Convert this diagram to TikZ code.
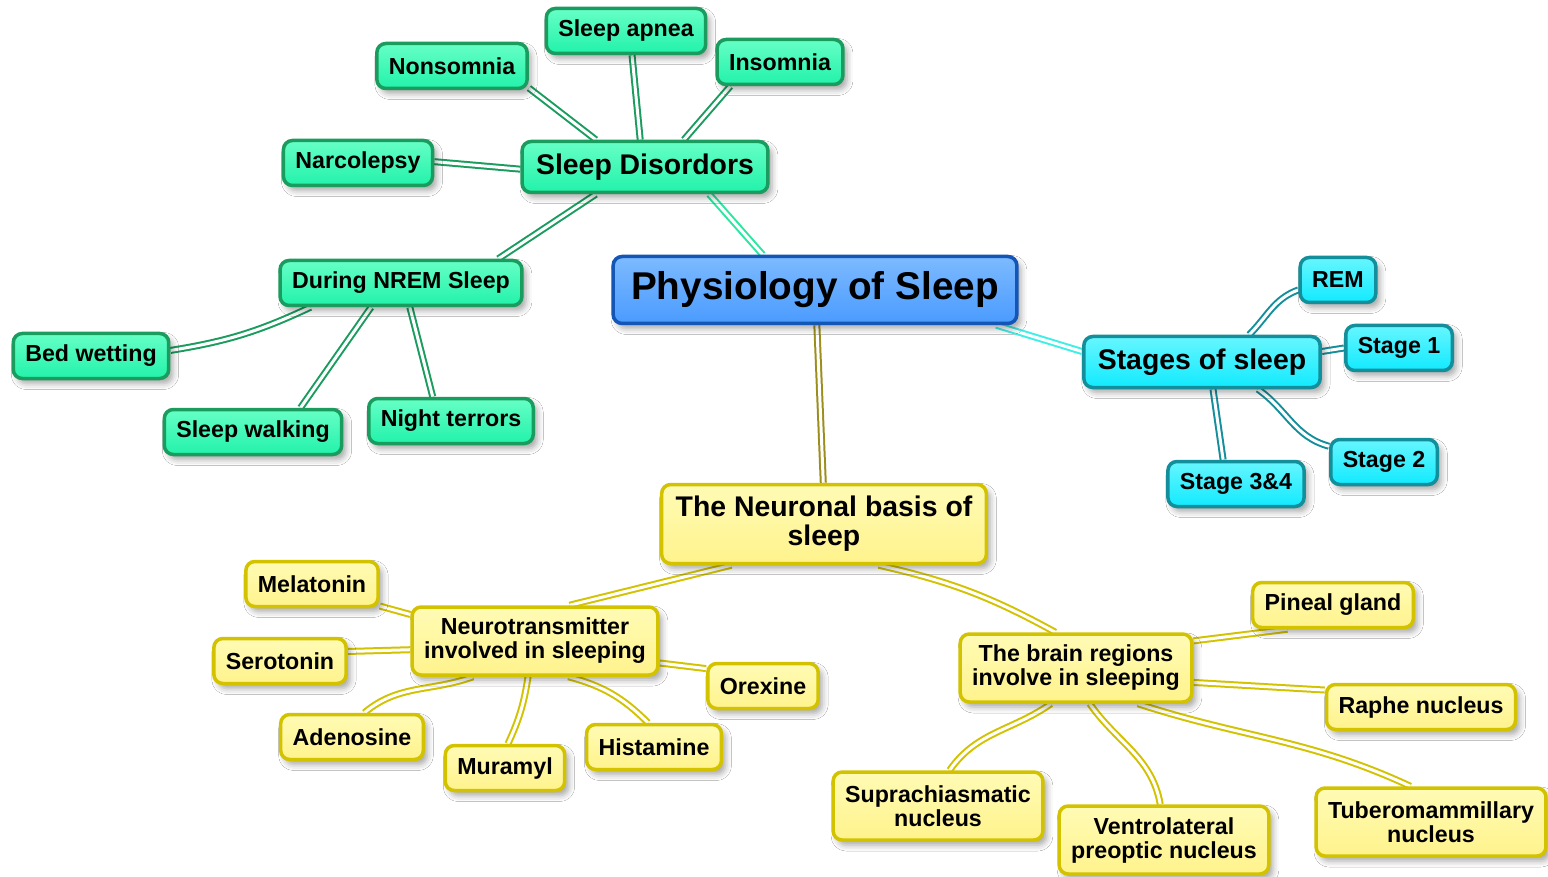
\documentclass[tikz,border=0pt]{standalone}
\usepackage{fontspec}
\setmainfont{Liberation Sans}
\usetikzlibrary{shadows.blur,backgrounds}
\definecolor{TopLight}{HTML}{7DBAFF}
\definecolor{TopFill}{HTML}{4A9BFF}
\definecolor{TopBorder}{HTML}{1356B5}
\definecolor{GrnLight}{HTML}{66FFC6}
\definecolor{GrnFill}{HTML}{22F2AA}
\definecolor{GrnBorder}{HTML}{1A9C5E}
\definecolor{GrnLink}{HTML}{2BE6A0}
\definecolor{CynLight}{HTML}{66F6FF}
\definecolor{CynFill}{HTML}{12EAFF}
\definecolor{CynBorder}{HTML}{138E9B}
\definecolor{CynLink}{HTML}{3FEFE6}
\definecolor{YlwLight}{HTML}{FFFBB5}
\definecolor{YlwFill}{HTML}{FFF38C}
\definecolor{YlwBorder}{HTML}{D2C200}
\definecolor{YlwLink}{HTML}{9C8E1C}

\begin{document}
\begin{tikzpicture}[x=1pt,y=-1pt,
  every node/.style={align=center},
  box/.style={draw,rounded corners=9pt,line width=3.5pt,
              blur shadow={shadow xshift=4pt,shadow yshift=-5pt,
                           shadow blur radius=6pt,shadow opacity=35}},
  top/.style={box,draw=TopBorder,top color=TopLight,bottom color=TopFill,
              inner xsep=18pt,minimum height=67pt,
              font=\fontsize{38.7}{40}\selectfont\bfseries},
  mid/.style={inner xsep=14pt,minimum height=51pt,
              font=\fontsize{28.4}{29}\selectfont\bfseries},
  leaf/.style={inner xsep=12pt,minimum height=45pt,
               font=\fontsize{23.2}{24}\selectfont\bfseries},
  grn/.style={box,draw=GrnBorder,top color=GrnLight,bottom color=GrnFill},
  cyn/.style={box,draw=CynBorder,top color=CynLight,bottom color=CynFill},
  ylw/.style={box,draw=YlwBorder,top color=YlwLight,bottom color=YlwFill},
  link/.style={line width=2pt,double=white,double distance=3pt},
  glink/.style={link,draw=GrnBorder},
  clink/.style={link,draw=CynBorder},
  ylink/.style={link,draw=YlwBorder}
]
  \useasboundingbox (0,0) rectangle (1548,877);

  \node[top] (phys) at (815,290) {Physiology of Sleep};

  % sleep disorders branch
  \node[grn,mid] (sd) at (645,167) {Sleep Disordors};
  \node[grn,leaf] (ap) at (626,31) {Sleep apnea};
  \node[grn,leaf] (ns) at (452,66) {Nonsomnia};
  \node[grn,leaf] (ins) at (780,62) {Insomnia};
  \node[grn,leaf] (nar) at (358,163) {Narcolepsy};
  \node[grn,leaf] (nrem) at (401,283) {During NREM Sleep};
  \node[grn,leaf] (bw) at (91,356) {Bed wetting};
  \node[grn,leaf] (sw) at (253,432) {Sleep walking};
  \node[grn,leaf] (terr) at (451,421) {Night terrors};

  % stages branch
  \node[cyn,mid] (stg) at (1202,362) {Stages of sleep};
  \node[cyn,leaf] (rem) at (1338,280) {REM};
  \node[cyn,leaf] (s1) at (1399,348) {Stage 1};
  \node[cyn,leaf] (s2) at (1384,462) {Stage 2};
  \node[cyn,leaf] (s34) at (1236,484) {Stage 3\&4};

  % neuronal basis branch
  \node[ylw,mid,minimum height=79pt] (nb) at (824,524) {The Neuronal basis of\\sleep};
  \node[ylw,leaf,minimum height=68pt] (nt) at (535,641) {Neurotransmitter\\involved in sleeping};
  \node[ylw,leaf] (mel) at (312,584) {Melatonin};
  \node[ylw,leaf] (ser) at (280,661) {Serotonin};
  \node[ylw,leaf] (ade) at (352,737) {Adenosine};
  \node[ylw,leaf] (mur) at (505,768) {Muramyl};
  \node[ylw,leaf] (his) at (654,747) {Histamine};
  \node[ylw,leaf] (ore) at (763,686) {Orexine};
  \node[ylw,leaf,minimum height=68pt] (br) at (1076,668) {The brain regions\\involve in sleeping};
  \node[ylw,leaf] (pin) at (1333,605) {Pineal gland};
  \node[ylw,leaf] (rap) at (1421,707) {Raphe nucleus};
  \node[ylw,leaf,minimum height=68pt] (sup) at (938,806) {Suprachiasmatic\\nucleus};
  \node[ylw,leaf,minimum height=68pt] (ven) at (1164,840) {Ventrolateral\\preoptic nucleus};
  \node[ylw,leaf,minimum height=68pt] (tub) at (1431,822) {Tuberomammillary\\nucleus};

  \begin{scope}[on background layer]
    \fill[white] (0,0) rectangle (1548,877);
    \draw[link,draw=GrnLink] (sd.-23) -- (phys.146);
    \draw[link,draw=CynLink] (phys.-11) -- (stg.175);
    \draw[link,draw=YlwLink] (phys.-87) -- (nb.91);

    \draw[glink] (sd.151) -- (ns.-16);
    \draw[glink] (sd.100) -- (ap.-76);
    \draw[glink] (sd.35) -- (ins.-154);
    \draw[glink] (sd.181) -- (nar.1);
    \draw[glink] (sd.209) -- (nrem.14);
    \draw[glink] (nrem.195) to[bend left=8] (bw.4);
    \draw[glink] (nrem.219) -- (sw.27);
    \draw[glink] (nrem.-70) -- (terr.127);

    \draw[clink] (stg.30) to[out=45,in=200] (rem.194);
    \draw[clink] (stg.5) -- (s1.180);
    \draw[clink] (stg.-26) to[out=-35,in=165] (s2.164);
    \draw[clink] (stg.-68) -- (s34.118);

    \draw[ylink] (nb.204) -- (nt.46);
    \draw[ylink] (nb.-37) to[bend left=8] (br.120);
    \draw[ylink] (nt.168) -- (mel.-18);
    \draw[ylink] (nt.184) -- (ser.8);
    \draw[ylink] (nt.210) to[out=200,in=40] (ade.63);
    \draw[ylink] (nt.259) to[bend left=8] (mur.83);
    \draw[ylink] (nt.-47) to[bend left=15] (his.104);
    \draw[ylink] (nt.-10) -- (ore.163);
    \draw[ylink] (br.13) -- (pin.208);
    \draw[ylink] (br.-7) -- (rap.170);
    \draw[ylink] (br.235) to[out=215,in=55] (sup.72);
    \draw[ylink] (br.-69) to[out=-55,in=100] (ven.96);
    \draw[ylink] (br.-30) to[out=-18,in=155] (tub.120);
  \end{scope}
\end{tikzpicture}
\end{document}
